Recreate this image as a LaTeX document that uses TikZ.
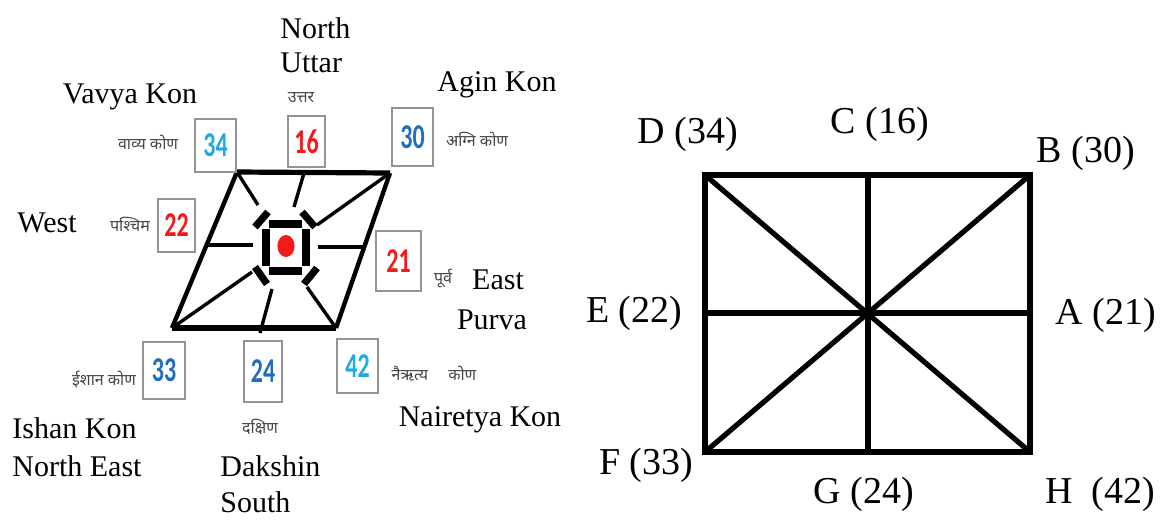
\documentclass[tikz,border=0pt]{standalone}
\usepackage{fontspec}
\usepackage{graphicx}
\setmainfont{Liberation Serif}
\newfontfamily\deva[Script=Devanagari]{Noto Sans}
\newfontfamily\digits{Carlito}
\usetikzlibrary{positioning,calc}
\definecolor{lblue}{HTML}{1EA8E6}
\definecolor{dblue}{HTML}{1F6CC0}
\definecolor{nred}{HTML}{F21A1A}
\definecolor{hindi}{HTML}{454545}
\newcommand\tall[1]{\scalebox{1}[1.45]{#1}}
\tikzstyle{numbox}=[draw=gray!85, line width=0.8pt, inner sep=0pt, font=\digits\bfseries\fontsize{12}{12}\selectfont]
\tikzstyle{lbl}=[font=\fontsize{15}{19}\selectfont, inner sep=0pt]
\tikzstyle{hin}=[font=\deva\fontsize{8}{9}\selectfont, text=hindi, inner sep=0pt]
\tikzstyle{corner}=[font=\fontsize{19}{20}\selectfont, inner sep=0pt]
\tikzstyle{side}=[line width=2.2pt]
\tikzstyle{spoke}=[line width=1.7pt]
\tikzstyle{bar}=[line width=3.6pt]

\begin{document}
\begin{tikzpicture}[x=0.5pt,y=-0.5pt]
	\useasboundingbox (0,0) rectangle (1170,520);
	% compass sketch
	\coordinate (TL) at (237,172);
	\coordinate (TR) at (390,173);
	\coordinate (BR) at (336,328);
	\coordinate (BL) at (172,328);
	\draw[side, line width=2.6pt](TL)--(TR);
	\draw[side, line width=2.6pt](BL)--(BR);
	\draw[side](TL)--(BL);
	\draw[side](TR)--(BR);

	\coordinate (tm) at (304,173);
	\coordinate (lm) at (206,245);
	\coordinate (rm) at (364,247);
	\coordinate (bm) at (260,333);
	\coordinate (s1) at (258,205);
	\coordinate (s2) at (294,207);
	\coordinate (s3) at (317,225);
	\coordinate (s4) at (253,245);
	\coordinate (s5) at (318,247);
	\coordinate (s6) at (252,272);
	\coordinate (s7) at (272,289);
	\coordinate (s8) at (307,287);
	\draw[spoke](TL)--(s1);
	\draw[spoke](tm)--(s2);
	\draw[spoke](TR)--(s3);
	\draw[spoke](lm)--(s4);
	\draw[spoke](s5)--(rm);
	\draw[spoke](BL)--(s6);
	\draw[spoke](bm)--(s7);
	\draw[spoke](BR)--(s8);

	% centre
	\draw[bar](269,224)--(302,224);
	\draw[bar](269,271)--(302,271);
	\draw[bar](266,229)--(266,266);
	\draw[bar](306,229)--(306,266);
	\draw[bar](255,227)--(268,212);
	\draw[bar](302,212)--(315,227);
	\draw[bar](255,267)--(267,284);
	\draw[bar](304,284)--(317,268);
	\coordinate (dot) at (286,246);
	\fill[nred](dot) ellipse [x radius=4.3pt, y radius=5.5pt];

	% number boxes
	\foreach \nm/\pos/\w/\h/\col in {34/{(215.5,145.5)}/20.5/26.5/lblue,
		16/{(306.5,141.5)}/18.5/25.5/nred, 30/{(412.5,137)}/20.5/29/dblue,
		22/{(176.5,225.5)}/18.5/26.5/nred, 21/{(398.5,261)}/22.5/30/nred,
		33/{(164,370.5)}/21/28.5/dblue, 24/{(263,371.5)}/19/30.5/dblue,
		42/{(357.5,366)}/20.5/27/lblue}
		\node[numbox, minimum width=\w pt, minimum height=\h pt, text=\col] (n\nm) at \pos {\tall{\nm}};

	% hindi names
	\node[hin] (h16) at (301,98) {उत्तर};
	\node[hin] (h34) at (148,142) {वाव्य कोण};
	\node[hin] (h30) at (477,139) {अग्नि कोण};
	\node[hin] (h22) at (130,224) {पश्चिम};
	\node[hin] (h21) at (443,279) {पूर्व};
	\node[hin] (h33) at (104,380) {ईशान कोण};
	\node[hin] (h24) at (260,427) {दक्षिण};
	\node[hin] (h42) at (434,374) {नैऋत्य \quad कोण};

	% english names
	\node[lbl, align=left, anchor=west] (north) at (280,45) {North\\[-2pt]Uttar};
	\node[lbl] (vavya) at (130,97) {Vavya Kon};
	\node[lbl] (agin) at (497,85) {Agin Kon};
	\node[lbl] (west) at (47,223) {West};
	\node[lbl] (east) at (498,280) {East};
	\node[lbl] (purva) at (492,320) {Purva};
	\node[lbl] (nair) at (480,420) {Nairetya Kon};
	\node[lbl, align=left, anchor=west] (ishan) at (12,447) {Ishan Kon\\North East};
	\node[lbl, align=left, anchor=west] (dak) at (220,484) {Dakshin\\[-1pt]South};

	% square chart
	\coordinate (D) at (705,175);
	\coordinate (C) at (868,175);
	\coordinate (B) at (1030,175);
	\coordinate (E) at (705,313);
	\coordinate (A) at (1030,313);
	\coordinate (F) at (705,452);
	\coordinate (G) at (868,452);
	\coordinate (H) at (1030,452);
	\draw[line width=2.8pt](D)--(B)--(H)--(F)--cycle;
	\draw[line width=2.6pt](D)--(H);
	\draw[line width=2.6pt](B)--(F);
	\draw[line width=2.6pt](C)--(G);
	\draw[line width=2.6pt](E)--(A);

	\node[corner] (Dl) at (688,134) {D (34)};
	\node[corner] (Cl) at (880,124) {C (16)};
	\node[corner] (Bl) at (1086,153) {B (30)};
	\node[corner] (El) at (634,313) {E (22)};
	\node[corner] (Al) at (1106,315) {A (21)};
	\node[corner] (Fl) at (646,465) {F (33)};
	\node[corner] (Gl) at (864,494) {G (24)};
	\node[corner] (Hl) at (1100,494) {H \ (42)};
\end{tikzpicture}
\end{document}
